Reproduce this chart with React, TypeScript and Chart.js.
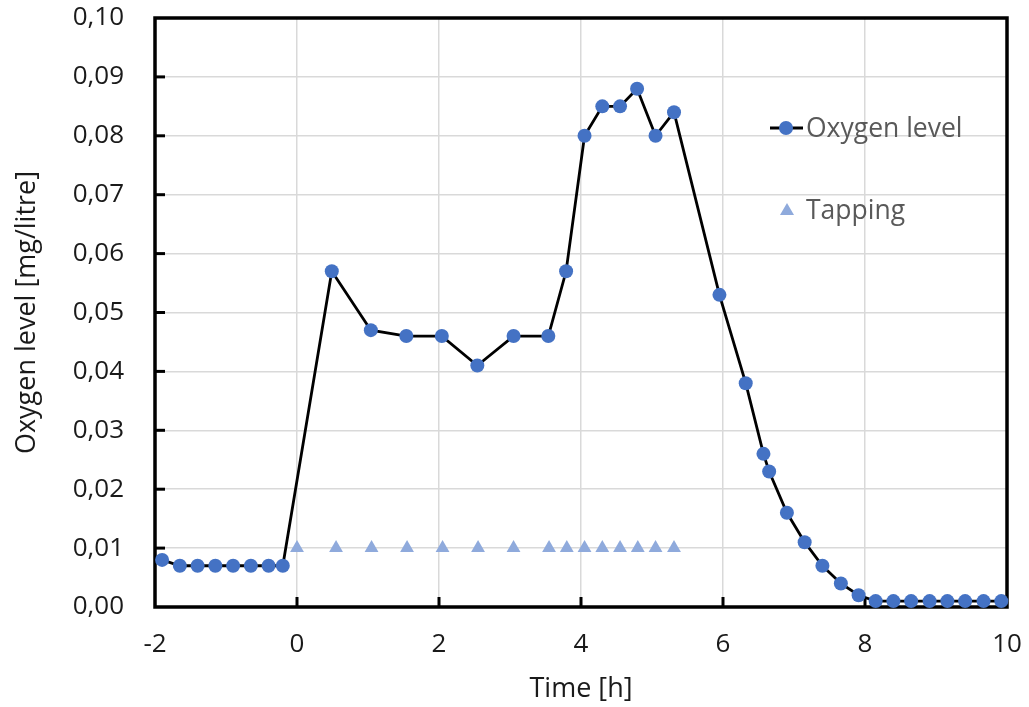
import React, { useEffect, useRef } from "react";
import { Chart, registerables } from "chart.js";

Chart.register(...registerables);

const oxygenTime = [
  -1.9, -1.65, -1.4, -1.15, -0.9, -0.65, -0.4, -0.2, 0.49, 1.04, 1.54, 2.04, 2.54, 3.05, 3.54,
  3.79, 4.05, 4.3, 4.55, 4.79, 5.05, 5.31, 5.95, 6.32, 6.57, 6.65, 6.9, 7.15, 7.4, 7.66, 7.91,
  8.15, 8.4, 8.65, 8.91, 9.16, 9.41, 9.67, 9.92,
];
const oxygenLevel = [
  0.008, 0.007, 0.007, 0.007, 0.007, 0.007, 0.007, 0.007, 0.057, 0.047, 0.046, 0.046, 0.041, 0.046,
  0.046, 0.057, 0.08, 0.085, 0.085, 0.088, 0.08, 0.084, 0.053, 0.038, 0.026, 0.023, 0.016, 0.011,
  0.007, 0.004, 0.002, 0.001, 0.001, 0.001, 0.001, 0.001, 0.001, 0.001, 0.001,
];
const tappingTime = [0, 0.55, 1.05, 1.55, 2.05, 2.55, 3.05, 3.55, 3.8, 4.05, 4.3, 4.55, 4.8, 5.05, 5.31];
const tappingLevel = [0.01, 0.01, 0.01, 0.01, 0.01, 0.01, 0.01, 0.01, 0.01, 0.01, 0.01, 0.01, 0.01, 0.01, 0.01];
const seriesNames = ["Oxygen level", "Tapping"];
const xTitle = "Time [h]";
const yTitle = "Oxygen level [mg/litre]";

const FONT = "'Open Sans', sans-serif";
const BLUE = "#4472C4";
const LIGHT = "#8FAADC";

const framePlugin = {
  id: "frame",
  beforeDatasetsDraw(chart: any) {
    const { ctx, chartArea } = chart;
    const { left, right, top, bottom } = chartArea;
    ctx.save();
    ctx.strokeStyle = "#000";
    ctx.lineWidth = 3;
    const xs = chart.scales.x;
    xs.ticks.forEach((t: any) => {
      const px = xs.getPixelForValue(t.value);
      if (px <= left + 2 || px >= right - 2) return;
      ctx.beginPath();
      ctx.moveTo(px, bottom);
      ctx.lineTo(px, bottom - 10);
      ctx.stroke();
    });
    const ys = chart.scales.y;
    ys.ticks.forEach((t: any) => {
      const py = ys.getPixelForValue(t.value);
      if (py <= top + 2 || py >= bottom - 2) return;
      ctx.beginPath();
      ctx.moveTo(left, py);
      ctx.lineTo(left + 10, py);
      ctx.stroke();
    });
    ctx.lineWidth = 3.5;
    ctx.strokeRect(left, top, right - left, bottom - top);
    ctx.restore();
  },
};

const legendPlugin = {
  id: "customLegend",
  afterDraw(chart: any) {
    const { ctx } = chart;
    ctx.save();
    const y1 = 128;
    ctx.strokeStyle = "#000";
    ctx.lineWidth = 3;
    ctx.beginPath();
    ctx.moveTo(770, y1);
    ctx.lineTo(803, y1);
    ctx.stroke();
    ctx.fillStyle = BLUE;
    ctx.beginPath();
    ctx.arc(786, y1, 7, 0, Math.PI * 2);
    ctx.fill();
    ctx.fillStyle = "#595959";
    ctx.font = `26.5px ${FONT}`;
    ctx.textBaseline = "middle";
    ctx.textAlign = "left";
    ctx.fillText(seriesNames[0], 806, y1 + 1);
    const y2 = 210;
    ctx.fillStyle = LIGHT;
    ctx.beginPath();
    ctx.moveTo(787, y2 - 7);
    ctx.lineTo(794, y2 + 5);
    ctx.lineTo(780, y2 + 5);
    ctx.closePath();
    ctx.fill();
    ctx.fillStyle = "#595959";
    ctx.fillText(seriesNames[1], 806, y2 + 1);
    ctx.restore();
  },
};

export default function App() {
  const ref = useRef<HTMLCanvasElement>(null);
  useEffect(() => {
    document.body.style.margin = "0";
    const canvas = ref.current;
    if (!canvas) return;
    const chart = new Chart(canvas, {
      type: "scatter",
      data: {
        datasets: [
          {
            label: seriesNames[0],
            data: oxygenTime.map((x, i) => ({ x, y: oxygenLevel[i] })),
            showLine: true,
            borderColor: "#000",
            borderWidth: 2.8,
            pointBackgroundColor: BLUE,
            pointBorderColor: BLUE,
            pointBorderWidth: 0,
            pointRadius: 7,
            clip: false as any,
          },
          {
            label: seriesNames[1],
            data: tappingTime.map((x, i) => ({ x, y: tappingLevel[i] })),
            showLine: false,
            pointStyle: "triangle",
            pointBackgroundColor: LIGHT,
            pointBorderColor: LIGHT,
            pointBorderWidth: 0,
            pointRadius: 8,
          },
        ],
      },
      options: {
        responsive: false,
        animation: false,
        layout: { padding: { top: 18, right: 22, left: 0, bottom: 0 } },
        plugins: {
          legend: { display: false },
          tooltip: { enabled: false },
        },
        scales: {
          x: {
            type: "linear",
            min: -2,
            max: 10,
            afterFit: (s: any) => {
              s.height = 100;
              s.paddingLeft = 0;
              s.paddingRight = 0;
            },
            ticks: {
              stepSize: 2,
              padding: 22,
              color: "#1a1a1a",
              font: { family: FONT, size: 26 },
            },
            grid: { color: "#d9d9d9", lineWidth: 1.5, drawTicks: false },
            border: { display: false },
            title: {
              display: true,
              text: xTitle,
              color: "#1a1a1a",
              font: { family: FONT, size: 27 },
              padding: { top: 0, bottom: 1 },
            },
          },
          y: {
            type: "linear",
            min: 0,
            max: 0.1,
            afterFit: (s: any) => {
              s.width = 155;
              s.paddingTop = 0;
              s.paddingBottom = 0;
            },
            ticks: {
              stepSize: 0.01,
              padding: 31,
              color: "#1a1a1a",
              font: { family: FONT, size: 26 },
              callback: (v: any) => Number(v).toFixed(2).replace(".", ","),
            },
            grid: { color: "#d9d9d9", lineWidth: 1.5, drawTicks: false },
            border: { display: false },
            title: {
              display: true,
              text: yTitle,
              color: "#1a1a1a",
              font: { family: FONT, size: 27 },
              padding: { top: 11, bottom: 0 },
            },
          },
        },
      },
      plugins: [framePlugin, legendPlugin],
    });
    return () => chart.destroy();
  }, []);
  return <canvas ref={ref} width={1029} height={707} style={{ display: "block" }} />;
}
